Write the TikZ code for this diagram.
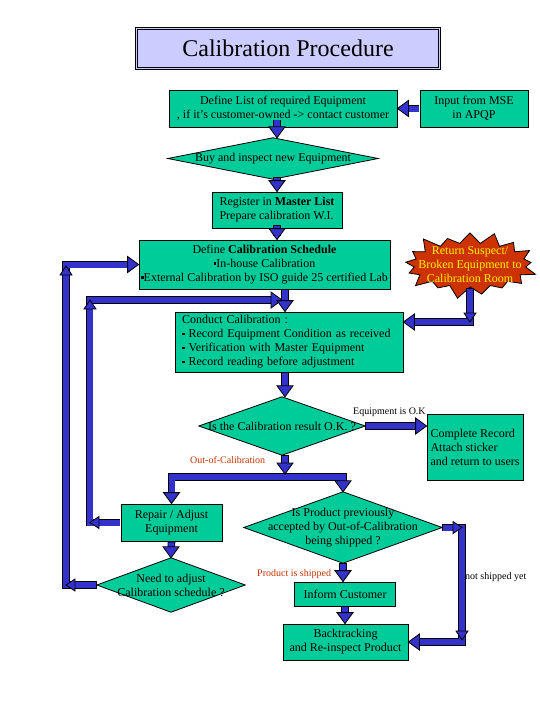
\documentclass[tikz,border=0pt]{standalone}
\usepackage{fontspec}
\setmainfont{Liberation Serif}
\usetikzlibrary{shapes.symbols}
\definecolor{boxgreen}{HTML}{00CC99}
\definecolor{ablue}{HTML}{3333CC}
\definecolor{titlebg}{HTML}{CCCCFF}
\definecolor{burstred}{HTML}{CC3300}
\definecolor{lblred}{HTML}{CC3300}
\pgfdeclarelayer{bg}
\pgfsetlayers{bg,main}
\newcommand\sqb{\rule[2.5pt]{2.6pt}{2.6pt}}
\newcommand\atip[2]{\filldraw[tipstyle, shift={#1}, rotate=#2] (0,0) -- (-11,8) -- (-11,-8) -- cycle;}
\newcommand\ctip[2]{\filldraw[tipstyle, shift={#1}, rotate=#2] (0,0) -- (-9,6) -- (-9,-6) -- cycle;}
\begin{document}
\begin{tikzpicture}[x=1pt,y=-1pt,
  every node/.style={font=\fontsize{12}{14}\selectfont, inner sep=1pt},
  box/.style={draw=black, line width=0.8pt, fill=boxgreen, align=center},
  dia/.style={align=center, inner sep=0pt},
  lbl/.style={font=\fontsize{10}{12}\selectfont, inner sep=0pt},
  titlebox/.style={draw=black, line width=0.7pt, fill=titlebg,
     font=\fontsize{24}{28}\selectfont},
  tipstyle/.style={fill=ablue, draw=black, line width=0.8pt, line join=miter},
  flow/.style={draw=black, line width=0.8pt, double=ablue, double distance=6pt,
     line cap=rect, line join=miter, shorten <=4pt},
  flowto/.style={flow, shorten >=11pt},
  diashape/.style={fill=boxgreen, draw=black, line width=0.8pt}]
\useasboundingbox (0,0) rectangle (540,720);
\begin{pgfonlayer}{bg}
\fill[white] (0,0) rectangle (540,720);
\end{pgfonlayer}

% nodes
\node[titlebox, minimum width=305pt, minimum height=42pt] (title) at (288,48.5) {Calibration Procedure};
\draw[line width=0.7pt] ([shift={(2.4pt,-2.4pt)}]title.north west) rectangle ([shift={(-2.4pt,2.4pt)}]title.south east);
\node[box, minimum width=228pt, minimum height=37pt] (list) at (283,108.5)
  {Define List of required Equipment\\, if it’s customer-owned -> contact customer};
\node[box, minimum width=108pt, minimum height=37pt] (mse) at (474,108.5) {Input from MSE\\in APQP};
\node[dia, minimum width=210pt, minimum height=41pt] (buy) at (273,158.5) {Buy and inspect new Equipment};
\node[box, align=left, minimum width=130pt, minimum height=36pt] (reg) at (277,210)
  {Register in \textbf{Master List}\\Prepare calibration W.I.};
\node[box, minimum width=251pt, minimum height=49pt] (sched) at (264.5,264.5)
  {Define \textbf{Calibration Schedule}\\\sqb In-house Calibration\\\sqb External Calibration by ISO guide 25 certified Lab};
\node[starburst, fill=burstred, draw=black, line width=0.8pt, text=yellow, inner sep=0pt,
  minimum width=140pt, minimum height=72pt, starburst points=17, starburst point height=14pt] (burst) at (470,265)
  {\smash{\makebox[0pt]{\raisebox{-4pt}{\begin{tabular}{@{}c@{}}Return Suspect/\\Broken Equipment to\\Calibration Room\end{tabular}}}}};
\node[box, align=left, text width=214pt, inner xsep=7pt, minimum height=60pt] (cond) at (289,342)
  {Conduct Calibration :\\\sqb\ Record Equipment Condition as received\\\sqb\ Verification with Master Equipment\\\sqb\ Record reading before adjustment};
\node[dia, minimum width=166pt, minimum height=58pt] (ok) at (282,426) {Is the Calibration result O.K. ?};
\node[box, align=left, minimum width=96pt, minimum height=66pt] (done) at (475,447)
  {Complete Record\\Attach sticker\\and return to users};
\node[box, minimum width=101pt, minimum height=37pt] (repair) at (171.5,522.5) {Repair / Adjust\\Equipment};
\node[dia, minimum width=148pt, minimum height=54pt] (adj) at (171,585) {Need to adjust\\Calibration schedule ?};
\node[dia, minimum width=198pt, minimum height=71pt] (ship) at (343,527.5)
  {Is Product previously\\accepted by Out-of-Calibration\\being shipped ?};
\node[box, minimum width=101pt, minimum height=24pt] (inform) at (345,594) {Inform Customer};
\node[box, minimum width=125pt, minimum height=36pt] (back) at (345.5,642) {Backtracking\\and Re-inspect Product};

\node[lbl, anchor=west] (lok) at (353,412) {Equipment is O.K};
\node[lbl, anchor=west, text=lblred] (lout) at (190,460) {Out-of-Calibration};
\node[lbl, anchor=west, text=lblred] (lship) at (257,574) {Product is shipped};
\node[lbl, anchor=west] (lnot) at (465,577) {not shipped yet};

\coordinate (merge) at (285,300);
\coordinate (split) at (285,477);

% diamonds
\begin{pgfonlayer}{bg}
\foreach \n in {buy,ok,adj,ship}
  \filldraw[diashape] (\n.north) -- (\n.east) -- (\n.south) -- (\n.west) -- cycle;
\end{pgfonlayer}

% connectors
\draw[flowto] (mse.west) -- (list.east); \atip{(list.east)}{180}
\draw[flowto] (list.south -| reg.north) -- (buy.north -| reg.north); \atip{(buy.north -| reg.north)}{-90}
\draw[flowto] (buy.south -| reg.north) -- (reg.north); \atip{(reg.north)}{-90}
\draw[flowto] (reg.south) -- (reg.south |- sched.north); \atip{(reg.south |- sched.north)}{-90}

\draw[flowto] (adj.west) -- ++(-31,0) |- (sched.west); \atip{(sched.west)}{0}
\ctip{(66,585)}{180} \ctip{(66,266)}{90}

\draw[flowto] (repair.west) -- ++(-31,0) |- ([xshift=-3pt]merge); \atip{([xshift=-3pt]merge)}{0}
\ctip{(90,522.5)}{180} \ctip{(90,300)}{90}

\draw[flowto] (sched.south -| merge) -- (cond.north -| merge); \atip{(cond.north -| merge)}{-90}

\draw[flowto] (burst.south) |- ([yshift=20pt]cond.east); \atip{([yshift=20pt]cond.east)}{180}
\ctip{(470,322)}{-90}

\draw[flowto] (cond.south -| merge) -- (ok.north -| merge); \atip{(ok.north -| merge)}{-90}
\draw[flowto] (ok.east) -- (ok.east -| done.west); \atip{(ok.east -| done.west)}{0}

\draw[flow, shorten <=11pt, shorten >=11pt] (repair.north) -- (repair.north |- split) -- (ship.north |- split) -- (ship.north);
\atip{(repair.north)}{-90} \atip{(ship.north)}{-90}
\draw[flowto] (ok.south -| merge) -- ([yshift=3pt]split); \atip{([yshift=3pt]split)}{-90}

\draw[flowto] (repair.south) -- (adj.north); \atip{(adj.north)}{-90}

\draw[flowto] (ship.south) -- (ship.south |- inform.north); \atip{(ship.south |- inform.north)}{-90}
\draw[flowto] (inform.south) -- (inform.south |- back.north); \atip{(inform.south |- back.north)}{-90}
\draw[flowto] (ship.east) -- ++(20,0) |- (back.east); \atip{(back.east)}{180}
\ctip{(462,527.5)}{0} \ctip{(462,640)}{-90}
\end{tikzpicture}
\end{document}
